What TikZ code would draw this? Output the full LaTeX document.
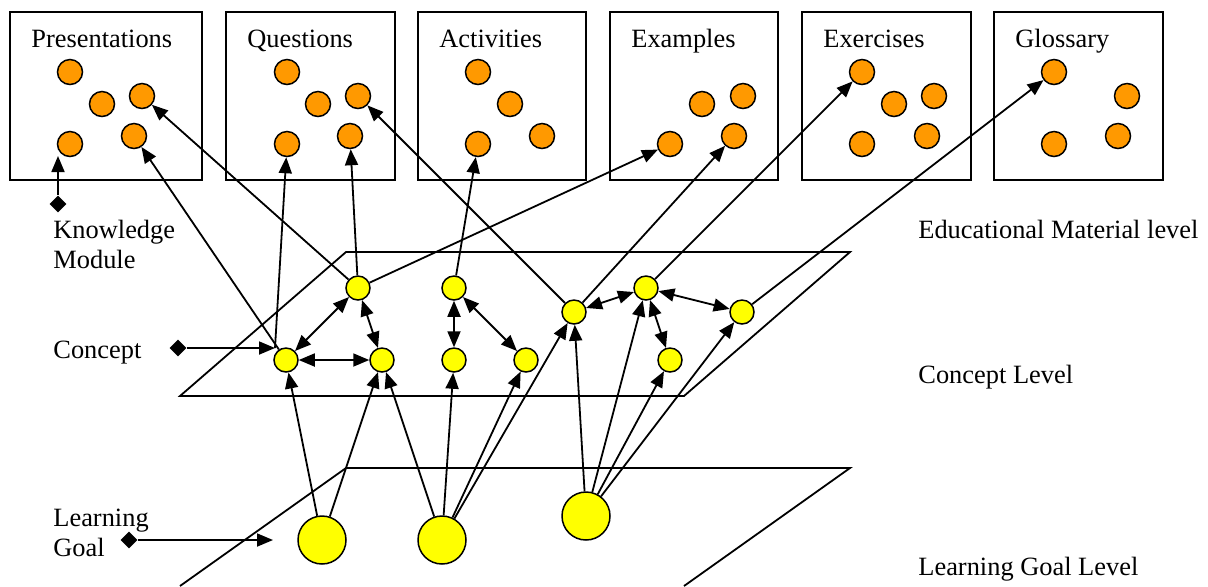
\documentclass[tikz,border=0pt]{standalone}
\usepackage{fontspec}
\setmainfont{Liberation Serif}
\usetikzlibrary{shapes.geometric,arrows.meta}
\definecolor{kmorange}{RGB}{255,153,0}
\definecolor{cyellow}{RGB}{255,255,0}
\begin{document}
\begin{tikzpicture}[x=0.5pt,y=-0.5pt,
  font=\fontsize{13.2}{15}\selectfont,
  mbox/.style={draw,line width=0.9pt},
  km/.style={circle,draw,line width=0.75pt,fill=kmorange,minimum size=12.5pt,inner sep=0pt},
  cn/.style={circle,draw,line width=0.75pt,fill=cyellow,minimum size=12pt,inner sep=0pt},
  lg/.style={circle,draw,line width=0.75pt,fill=cyellow,minimum size=24pt,inner sep=0pt},
  dia/.style={diamond,fill=black,minimum size=8.5pt,inner sep=0pt},
  lbl/.style={anchor=base west,inner sep=0pt},
  arr/.style={line width=0.9pt,-{Triangle[length=8pt,width=6.5pt]}},
  darr/.style={line width=0.9pt,{Triangle[length=8pt,width=6.5pt]}-{Triangle[length=8pt,width=6.5pt]}},
  plane/.style={line width=0.9pt,line join=miter}]
\useasboundingbox (0,0) rectangle (1208,586);
% planes
\draw[plane] (180,396) -- (346,252) -- (850,252) -- (684,396) -- cycle;
\draw[plane] (180,586) -- (346,468) -- (850,468) -- (684,586);
% material boxes
\draw[mbox] (10,12) rectangle (202,180);
\draw[mbox] (226,12) rectangle (395,180);
\draw[mbox] (418,12) rectangle (586,180);
\draw[mbox] (610,12) rectangle (778,180);
\draw[mbox] (802,12) rectangle (971,180);
\draw[mbox] (994,12) rectangle (1163,180);
\node[lbl] (tp) at (31,47) {Presentations};
\node[lbl] (tq) at (247,47) {Questions};
\node[lbl] (ta) at (439,47) {Activities};
\node[lbl] (te) at (631,47) {Examples};
\node[lbl] (tx) at (823,47) {Exercises};
\node[lbl] (tg) at (1015,47) {Glossary};
% knowledge modules
\node[km] (p1) at (70,72) {};
\node[km] (p2) at (102,104) {};
\node[km] (p3) at (142,96) {};
\node[km] (p4) at (70,144) {};
\node[km] (p5) at (134,136) {};
\node[km] (q1) at (287,72) {};
\node[km] (q2) at (318,104) {};
\node[km] (q3) at (358,96) {};
\node[km] (q4) at (287,144) {};
\node[km] (q5) at (350,136) {};
\node[km] (a1) at (478,72) {};
\node[km] (a2) at (510,104) {};
\node[km] (a3) at (542,136) {};
\node[km] (a4) at (478,144) {};
\node[km] (e1) at (702,104) {};
\node[km] (e2) at (743,96) {};
\node[km] (e3) at (670,144) {};
\node[km] (e4) at (734,136) {};
\node[km] (x1) at (862,72) {};
\node[km] (x2) at (894,104) {};
\node[km] (x3) at (934,96) {};
\node[km] (x4) at (862,144) {};
\node[km] (x5) at (927,136) {};
\node[km] (g1) at (1054,72) {};
\node[km] (g2) at (1127,96) {};
\node[km] (g3) at (1054,144) {};
\node[km] (g4) at (1118,136) {};
% concepts
\node[cn] (c1) at (286,360) {};
\node[cn] (c2) at (358,288) {};
\node[cn] (c3) at (382,360) {};
\node[cn] (c4) at (454,288) {};
\node[cn] (c5) at (454,360) {};
\node[cn] (c6) at (526,360) {};
\node[cn] (c7) at (574,312) {};
\node[cn] (c8) at (646,288) {};
\node[cn] (c9) at (742,312) {};
\node[cn] (c10) at (670,360) {};
% learning goals
\node[lg] (l1) at (322,540) {};
\node[lg] (l2) at (442,540) {};
\node[lg] (l3) at (586,516) {};
% left labels
\node[lbl] (tk1) at (53,238) {Knowledge};
\node[lbl] (tk2) at (53,268) {Module};
\node[lbl] (tc) at (53,358) {Concept};
\node[lbl] (tl1) at (53,526) {Learning};
\node[lbl] (tl2) at (53,556) {Goal};
% right labels
\node[lbl] (r1) at (918,238) {Educational Material level};
\node[lbl] (r2) at (918,383) {Concept Level};
\node[lbl] (r3) at (918,575) {Learning Goal Level};
% pointer diamonds
\node[dia] (dk) at (58,204) {};
\node[dia] (dc) at (178,348) {};
\node[dia] (dl) at (129,540) {};
\coordinate (kt) at (58,156);
\coordinate (ct) at (275,348);
\coordinate (lt) at (273,540);
\draw[arr] (dk) -- (kt);
\draw[arr] (dc) -- (ct);
\draw[arr] (dl) -- (lt);
\draw[arr] (ct) -- (q4);
% concept -> material
\draw[arr] (c1) -- (p5);
\draw[arr] (c2) -- (p3);
\draw[arr] (c2) -- (q5);
\draw[arr] (c2) -- (e3);
\draw[arr] (c4) -- (a4);
\draw[arr] (c7) -- (q3);
\draw[arr] (c7) -- (e4);
\draw[arr] (c8) -- (x1);
\draw[arr] (c9) -- (g1);
% concept <-> concept
\draw[darr] (c1) -- (c2);
\draw[darr] (c1) -- (c3);
\draw[darr] (c2) -- (c3);
\draw[darr] (c4) -- (c5);
\draw[darr] (c4) -- (c6);
\draw[darr] (c7) -- (c8);
\draw[darr] (c8) -- (c10);
\draw[darr] (c8) -- (c9);
% goal -> concept
\draw[arr] (l1) -- (c1);
\draw[arr] (l1) -- (c3);
\draw[arr] (l2) -- (c3);
\draw[arr] (l2) -- (c5);
\draw[arr] (l2) -- (c6);
\draw[arr] (l2) -- (c7);
\draw[arr] (l3) -- (c7);
\draw[arr] (l3) -- (c8);
\draw[arr] (l3) -- (c10);
\draw[arr] (l3) -- (c9);
\end{tikzpicture}
\end{document}
